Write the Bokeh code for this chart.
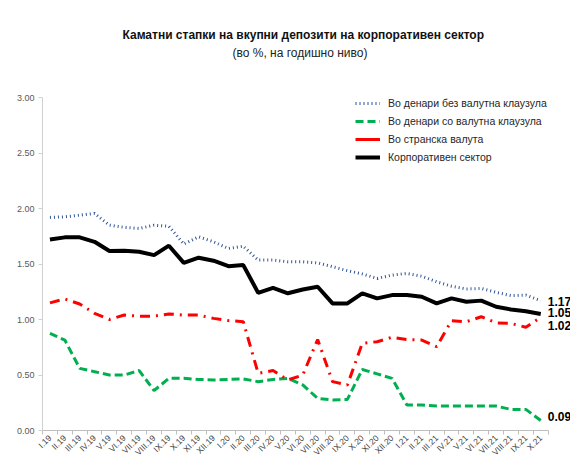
import math
from bokeh.plotting import figure
from bokeh.models import (ColumnDataSource, FixedTicker, Legend, LegendItem, Title,
                          NumeralTickFormatter, Range1d, Label)
from bokeh.embed import file_html
from bokeh.resources import INLINE

months = ["I.19", "II.19", "III.19", "IV.19", "V.19", "VI.19", "VII.19", "VIII.19", "IX.19",
          "X.19", "XI.19", "XII.19", "I.20", "II.20", "III.20", "IV.20", "V.20", "VI.20",
          "VII.20", "VIII.20", "IX.20", "X.20", "XI.20", "XII.20", "I.21", "II.21", "III.21",
          "IV.21", "V.21", "VI.21", "VII.21", "VIII.21", "IX.21", "X.21"]

denari_bez = [1.92, 1.925, 1.94, 1.955, 1.85, 1.83, 1.82, 1.85, 1.84, 1.68, 1.745, 1.70,
              1.64, 1.66, 1.535, 1.535, 1.52, 1.52, 1.51, 1.475, 1.44, 1.41, 1.37, 1.40,
              1.415, 1.39, 1.34, 1.30, 1.275, 1.28, 1.245, 1.215, 1.22, 1.17]
denari_so = [0.875, 0.815, 0.56, 0.53, 0.50, 0.50, 0.54, 0.36, 0.47, 0.47, 0.46, 0.455,
             0.46, 0.465, 0.44, 0.46, 0.47, 0.41, 0.29, 0.275, 0.28, 0.55, 0.51, 0.47,
             0.23, 0.23, 0.22, 0.22, 0.22, 0.22, 0.22, 0.19, 0.19, 0.09]
stranska = [1.15, 1.185, 1.14, 1.055, 1.00, 1.04, 1.03, 1.03, 1.05, 1.04, 1.04, 1.01,
            0.99, 0.98, 0.515, 0.54, 0.455, 0.50, 0.82, 0.44, 0.41, 0.785, 0.80, 0.84,
            0.82, 0.815, 0.755, 0.99, 0.98, 1.025, 0.97, 0.965, 0.93, 1.02]
korporativen = [1.72, 1.74, 1.74, 1.70, 1.617, 1.62, 1.61, 1.58, 1.665, 1.51, 1.557, 1.53,
                1.48, 1.49, 1.24, 1.285, 1.236, 1.27, 1.295, 1.145, 1.145, 1.236, 1.19, 1.22,
                1.22, 1.205, 1.145, 1.19, 1.16, 1.17, 1.115, 1.09, 1.075, 1.05]

names = ["Во денари без валутна клаузула", "Во денари со валутна клаузула",
         "Во странска валута", "Корпоративен сектор"]
title_text = "Каматни стапки на вкупни депозити на корпоративен сектор"
subtitle_text = "(во %, на годишно ниво)"
end_labels = ["1.17", "1.05", "1.02", "0.09"]

x = list(range(len(months)))
src = ColumnDataSource(dict(x=x, a=denari_bez, b=denari_so, c=stranska, d=korporativen))

# extra room on the right of the data so the end-value labels sit inside the frame
p = figure(width=570, height=463, output_backend="svg", toolbar_location=None,
           x_range=Range1d(-0.5, len(months) + 1.0), y_range=Range1d(0, 3.0),
           min_border_left=42, min_border_right=0, min_border_top=97, min_border_bottom=20)
p.title.visible = False
p.outline_line_color = None
p.xgrid.visible = False
p.ygrid.visible = False

FONT = "Liberation Sans"
# spacer between the frame and the subtitle
p.add_layout(Title(text=" ", text_font=FONT, text_font_size="12px", standoff=22), "above")
p.add_layout(Title(text=subtitle_text, align="left", offset=190, text_font=FONT,
                   text_font_size="12px", text_font_style="normal", text_color="#222222",
                   standoff=0), "above")
p.add_layout(Title(text=title_text, align="left", offset=80, text_font=FONT,
                   text_font_size="12px", text_font_style="bold", text_color="#111111",
                   standoff=4), "above")

r_blue = p.line("x", "a", source=src, line_color="#2F5597", line_width=3, line_dash="1 3")
r_green = p.line("x", "b", source=src, line_color="#00B050", line_width=3, line_dash="8 4")
r_red = p.line("x", "c", source=src, line_color="#FF0000", line_width=3, line_dash="10 6 2 6")
r_black = p.line("x", "d", source=src, line_color="#000000", line_width=4)
r_red_leg = p.line("x", "c", source=src, line_color="#FF0000", line_width=3, visible=False)

last = [denari_bez[-1], korporativen[-1], stranska[-1], denari_so[-1]]
label_dy = [-1, 1, -8, 4]
for val, txt, dy in zip(last, end_labels, label_dy):
    p.add_layout(Label(x=x[-1], y=val, x_offset=7, y_offset=dy, text=txt,
                       text_baseline="middle", text_font=FONT, text_font_size="12px",
                       text_font_style="bold", text_color="#000000"))

legend = Legend(items=[LegendItem(label=names[0], renderers=[r_blue]),
                       LegendItem(label=names[1], renderers=[r_green]),
                       LegendItem(label=names[2], renderers=[r_red_leg]),
                       LegendItem(label=names[3], renderers=[r_black])],
                location=(313, 266), background_fill_alpha=0, border_line_color=None,
                inactive_fill_alpha=0,
                label_text_font=FONT, label_text_font_size="10.5px", label_text_color="#262626",
                glyph_width=25, glyph_height=14, spacing=4, padding=0, margin=0,
                label_standoff=8)
p.add_layout(legend)

xa = p.xaxis[0]
xa.bounds = (-0.5, len(months) - 0.5)
xa.ticker = FixedTicker(ticks=x, minor_ticks=[i - 0.5 for i in range(len(months) + 1)])
xa.major_label_overrides = {i: m for i, m in enumerate(months)}
xa.major_label_orientation = math.pi / 4
xa.major_tick_out = 0
xa.major_tick_in = 0
xa.minor_tick_out = 4
xa.minor_tick_in = 0
xa.axis_line_color = "#BFBFBF"
xa.minor_tick_line_color = "#BFBFBF"
xa.major_label_text_font = FONT
xa.major_label_text_font_size = "8.5px"
xa.major_label_text_color = "#404040"
xa.major_label_standoff = 2

ya = p.yaxis[0]
ya.ticker = FixedTicker(ticks=[0, 0.5, 1.0, 1.5, 2.0, 2.5, 3.0])
ya.formatter = NumeralTickFormatter(format="0.00")
ya.axis_line_color = "#D0D0D0"
ya.major_tick_line_color = "#D0D0D0"
ya.major_tick_out = 4
ya.major_tick_in = 0
ya.minor_tick_line_color = None
ya.major_label_text_font = FONT
ya.major_label_text_font_size = "9px"
ya.major_label_text_color = "#595959"
ya.major_label_standoff = 4

open("out.html", "w").write(file_html(p, INLINE))
